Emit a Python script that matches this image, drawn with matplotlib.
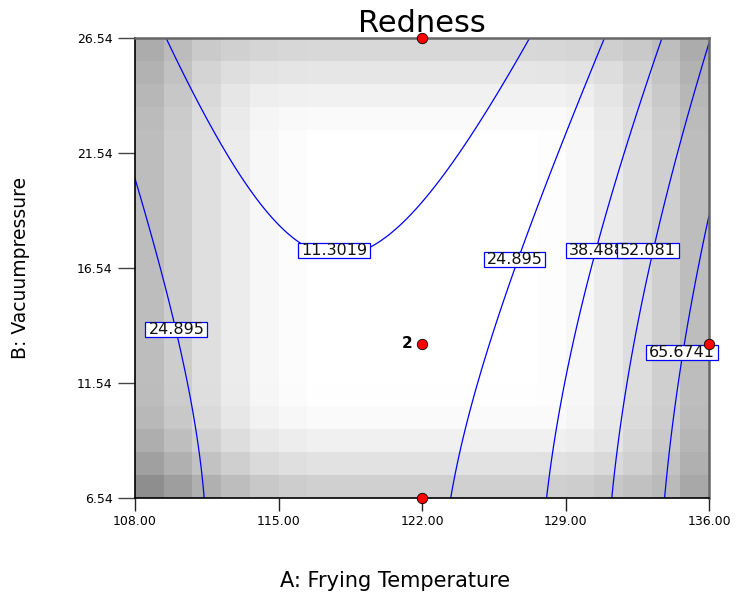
import numpy as np
import matplotlib
matplotlib.use("Agg")
import matplotlib.pyplot as plt
from matplotlib.patches import Rectangle
from matplotlib.transforms import IdentityTransform

# factor ranges and ticks
temp_range = [108.0, 136.0]
vac_range = [6.54, 26.54]
temp_ticks = [108.0, 115.0, 122.0, 129.0, 136.0]
vac_ticks = [6.54, 11.54, 16.54, 21.54, 26.54]

# quadratic model in coded units: 1, A, B, AB, A^2, B^2
model_coef = [14.817, 20.053, -11.207, -2.424, 34.109, -3.717]
temp_center, temp_half = 122.0, 14.0
vac_center, vac_half = 16.54, 10.0

levels = [11.3019, 24.895, 38.488, 52.081, 65.6741]

# design points
pt_temp = [122.0, 122.0, 122.0, 136.0]
pt_vac = [26.54, 13.24, 6.54, 13.24]

# background shading per column / row (darkness, 0..255)
col_dark = [66, 50, 32, 19, 8, 3, 0, 0, 0, 0, 0, 0, 0, 0, 2, 8, 20, 34, 48, 66]
row_dark = [47, 29, 15, 5, 1, 0, 0, 0, 0, 0, 0, 0, 0, 0, 0, 0, 5, 14, 25, 39]

plt.rcParams["font.family"] = ["DejaVu Sans"]

fig = plt.figure(figsize=(7.44, 6.0), dpi=100)
ax = fig.add_axes([135/744, 102/600, 574/744, 460/600])

C, R = np.meshgrid(col_dark, row_dark)
ci, ri = np.meshgrid(np.arange(len(col_dark)), np.arange(len(row_dark)))
w = np.where((ci < 10) & (ri < 10), 1.0, 0.45)
dark = np.maximum(C, R) + w*np.minimum(C, R)
ea = np.linspace(temp_range[0], temp_range[1], len(col_dark) + 1)
eb = np.linspace(vac_range[0], vac_range[1], len(row_dark) + 1)
ax.pcolormesh(ea, eb, (255 - dark)/255.0, cmap="gray", vmin=0, vmax=1, shading="flat", zorder=0)

ga = np.linspace(temp_range[0], temp_range[1], 400)
gb = np.linspace(vac_range[0], vac_range[1], 400)
GA, GB = np.meshgrid(ga, gb)
a = (GA - temp_center)/temp_half
b = (GB - vac_center)/vac_half
c = model_coef
F = c[0] + c[1]*a + c[2]*b + c[3]*a*b + c[4]*a**2 + c[5]*b**2
ax.contour(GA, GB, F, levels=levels, colors="#0000ff", linewidths=0.9, zorder=2)

ax.set_xlim(temp_range)
ax.set_ylim(vac_range)

# contour labels: (temp, vacuum, level index)
lab_temp = [117.71, 110.02, 126.51, 130.54, 133.02, 134.66]
lab_vac = [17.28, 13.87, 16.89, 17.31, 17.31, 12.87]
lab_idx = [0, 1, 1, 2, 3, 4]
texts = []
for k, (x, y, i) in enumerate(zip(lab_temp, lab_vac, lab_idx)):
    t = ax.text(x, y, f"{levels[i]:.6g}", fontsize=11.5, ha="center", va="center",
                color="#111111", zorder=6 + 2*k, clip_on=False)
    texts.append(t)

ax.plot(pt_temp, pt_vac, "o", ms=7.5, mfc="red", mec="black", mew=0.6, clip_on=False, zorder=20)
ax.text(121.55, 13.24, "2", fontsize=11, fontweight="bold", ha="right", va="center", zorder=20)

ax.set_xticks(temp_ticks)
ax.set_xticklabels([f"{v:.2f}" for v in temp_ticks])
ax.set_yticks(vac_ticks)
ax.set_yticklabels([f"{v:.2f}" for v in vac_ticks])
ax.tick_params(axis="x", length=9, width=1, pad=3, labelsize=9, color="#222222")
ax.tick_params(axis="y", length=12, width=1, pad=4, labelsize=9, color="#444444")
for s in ["left", "bottom"]:
    ax.spines[s].set_color("black")
    ax.spines[s].set_linewidth(1.2)
for s in ["top", "right"]:
    ax.spines[s].set_color("#666666")
    ax.spines[s].set_linewidth(1.8)

ax.set_title("Redness", fontsize=22, pad=4)
fig.text(395/744, 1 - 581/600, "A: Frying Temperature", fontsize=15, ha="center", va="center")
fig.text(21/744, 1 - 268/600, "B: Vacuumpressure", fontsize=13.5, rotation=90, ha="center", va="center")

# white boxes with blue edge behind the contour labels
fig.canvas.draw()
rend = fig.canvas.get_renderer()
for k, t in enumerate(texts):
    bb = t.get_window_extent(rend)
    cy = bb.y0 + 0.515*bb.height
    ax.add_patch(Rectangle((bb.x0 - 3, cy - 7.5), bb.width + 6, 15, transform=IdentityTransform(),
                           facecolor="white", edgecolor="#0000ff", linewidth=0.9,
                           zorder=5 + 2*k, clip_on=False))

fig.savefig("out.png", dpi=100)
